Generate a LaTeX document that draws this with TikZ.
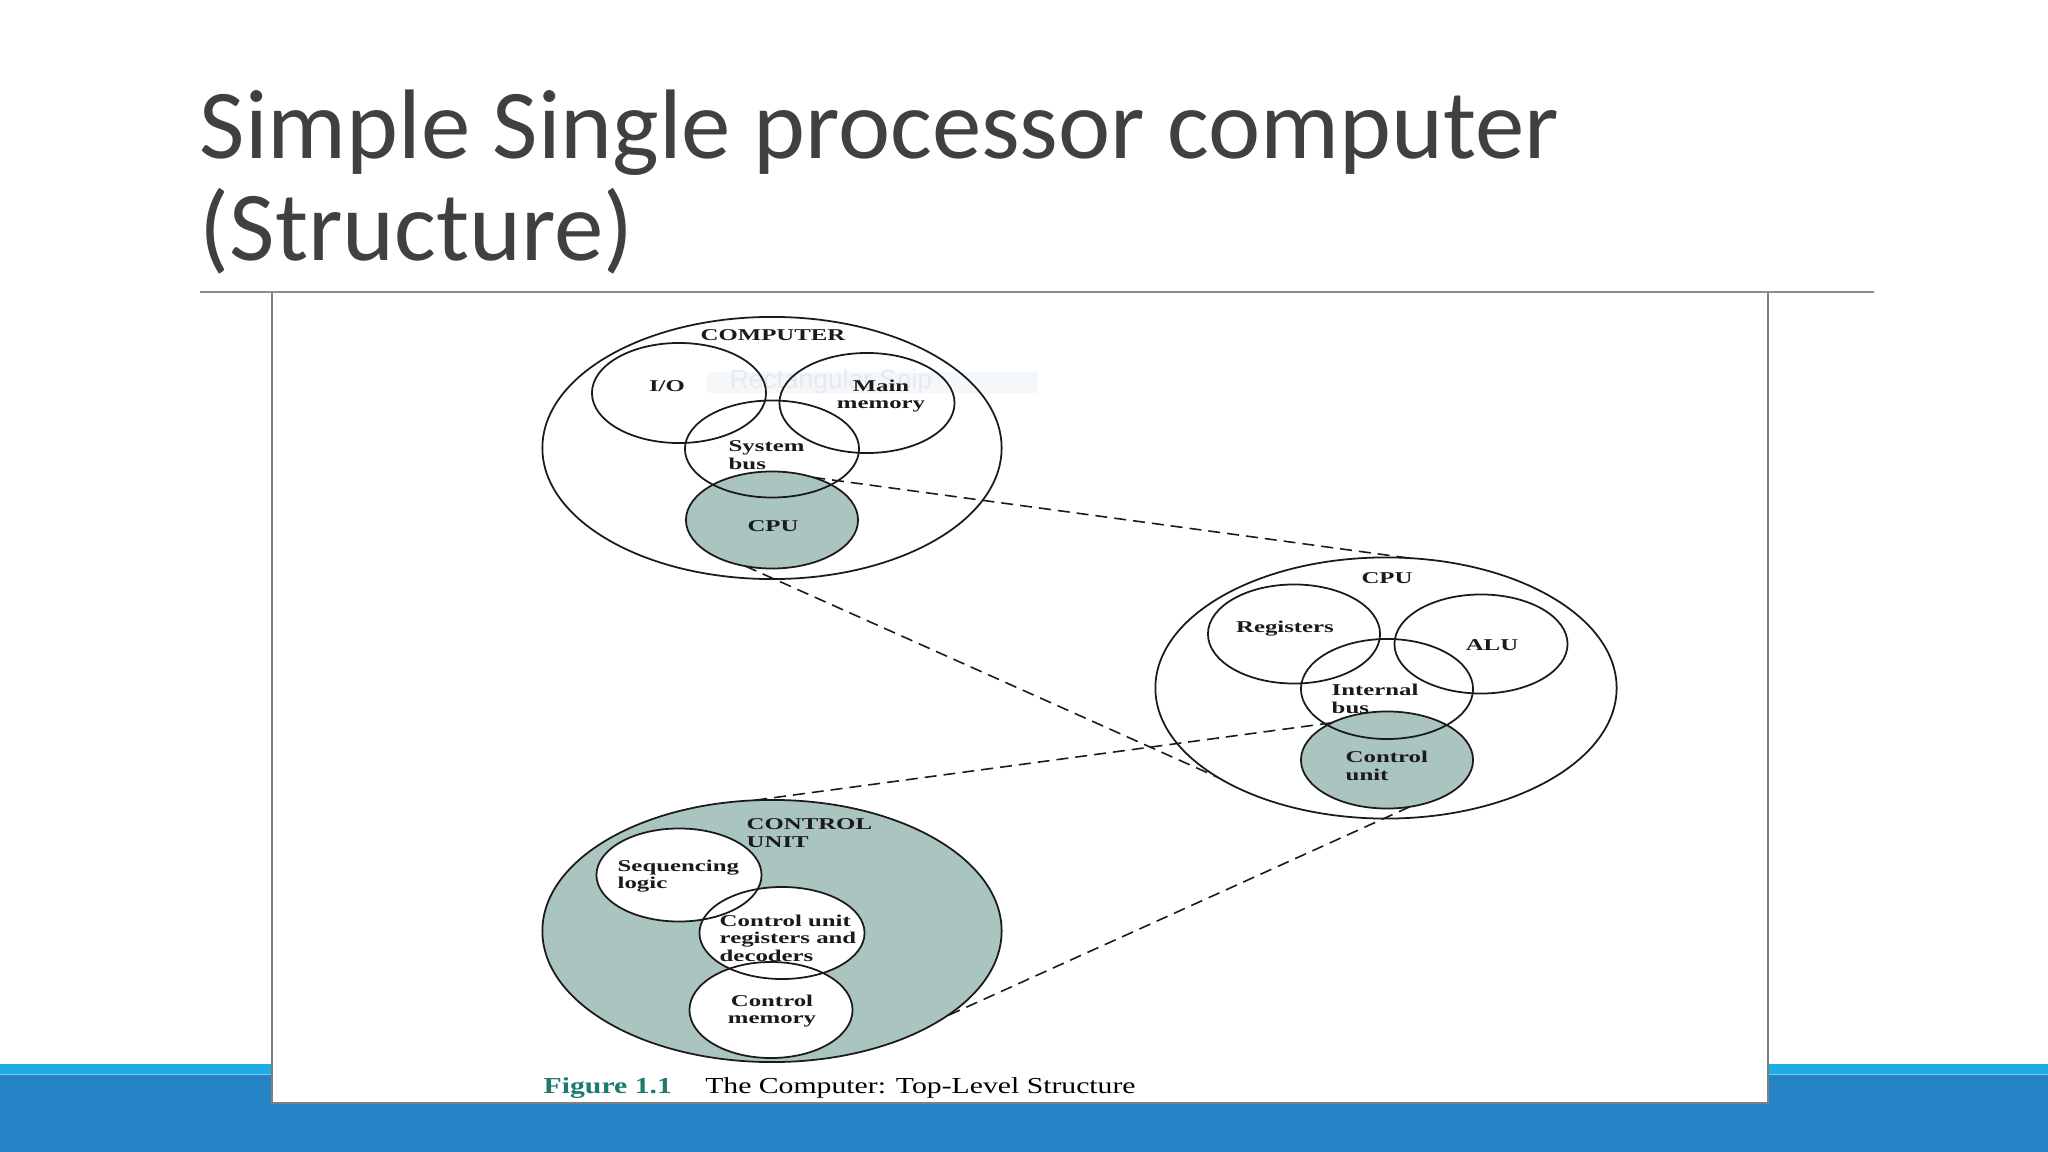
\documentclass[tikz,border=0pt]{standalone}
\usepackage{fontspec}
\usepackage{xcolor}
\usetikzlibrary{shapes.geometric,calc,backgrounds}
\setmainfont{Liberation Serif}
\newfontfamily\titlefont{Carlito}
\newfontfamily\figfont[FakeStretch=1.5]{Liberation Serif}
\newfontfamily\capfont[FakeStretch=1.3]{Liberation Serif}
\newfontfamily\snipfont{Liberation Sans}
\definecolor{ink}      {HTML}{1A1A1A}
\definecolor{titlegray}{HTML}{404040}
\definecolor{rulegray} {HTML}{8C8C8C}
\definecolor{boxgray}  {HTML}{7F7F7F}
\definecolor{cufill}   {HTML}{AAC4BF}
\definecolor{figteal}  {HTML}{1E7B6B}
\definecolor{bandlight}{HTML}{1CADE4}
\definecolor{bandline} {HTML}{7CCBEE}
\definecolor{banddark} {HTML}{2683C6}
\definecolor{snipbg}   {HTML}{F4F8FB}
\definecolor{sniptext} {HTML}{E6EAEF}
\tikzset{
  part/.style={ellipse,draw=ink,line width=0.5pt,inner sep=0pt,outer sep=0pt},
  lab/.style={font=\figfont\bfseries\fontsize{4.7}{5}\selectfont,text=ink,inner sep=0pt,align=left},
  link/.style={draw=ink,line width=0.45pt,dash pattern=on 3.4pt off 2pt}
}

\begin{document}
\begin{tikzpicture}[x=0.01cm,y=0.01cm]
        \useasboundingbox (0,0) rectangle (2048,-1152);

        % slide title
        \node[anchor=base west,inner sep=0pt,text=titlegray,font=\titlefont\fontsize{28.1}{30}\selectfont] (title) at (199,-159) {Simple Single processor computer};
        \node[anchor=base west,inner sep=0pt,text=titlegray,font=\titlefont\fontsize{28.1}{30}\selectfont] (title2) at (199,-261) {(Structure)};
        \draw[rulegray,line width=0.6pt] (200,-292) -- (1874,-292);

        % computer
        \node[part,minimum width=4.59cm,minimum height=2.62cm] (computer) at (772,-448) {};
        \node[part,minimum width=1.74cm,minimum height=1.00cm] (io) at (679,-393) {};
        \node[part,minimum width=1.75cm,minimum height=1.00cm] (mainmem) at (867,-403) {};
        \node[part,minimum width=1.72cm,minimum height=0.97cm] (cpu) at (772,-520) {};
        \node[part,minimum width=1.74cm,minimum height=0.97cm] (sysbus) at (772,-449) {};

        % cpu
        \node[part,minimum width=4.61cm,minimum height=2.61cm] (cpuouter) at (1386,-688) {};
        \node[part,minimum width=1.72cm,minimum height=0.99cm] (regs) at (1294,-634) {};
        \node[part,minimum width=1.73cm,minimum height=0.99cm] (alu) at (1481,-644) {};
        \node[part,minimum width=1.72cm,minimum height=0.97cm] (cu) at (1387,-760) {};
        \node[part,minimum width=1.72cm,minimum height=1.00cm] (intbus) at (1387,-689) {};

        % control unit
        \node[part,minimum width=4.59cm,minimum height=2.62cm] (cuouter) at (772,-931) {};
        \node[part,minimum width=1.65cm,minimum height=0.93cm] (seqlogic) at (679,-875) {};
        \node[part,minimum width=1.65cm,minimum height=0.92cm] (curegs) at (782,-933) {};
        \node[part,minimum width=1.63cm,minimum height=0.96cm] (ctrlmem) at (771,-1010) {};

        \node[lab] (computerlab) at (773,-335) {COMPUTER};
        \node[lab] (iolab) at (667,-386) {I/O};
        \node[lab,align=center] (mainmemlab) at (881,-396) {Main\\memory};
        \node[lab,anchor=west] (sysbuslab) at (728,-455) {System\\bus};
        \node[lab] (cpulab) at (773,-526) {CPU};
        \node[lab] (cpuouterlab) at (1387,-578) {CPU};
        \node[lab] (regslab) at (1285,-629) {Registers};
        \node[lab] (alulab) at (1492,-645) {ALU};
        \node[lab,anchor=west] (intbuslab) at (1331,-699) {Internal\\bus};
        \node[lab,anchor=west] (culab) at (1345,-766) {Control\\unit};
        \node[lab,anchor=west] (cuouterlab) at (746,-833) {CONTROL\\UNIT};
        \node[lab,anchor=west] (seqlogiclab) at (617,-876) {Sequencing\\logic};
        \node[lab,anchor=west] (curegslab) at (719,-938) {Control unit\\registers and\\decoders};
        \node[lab,align=center] (ctrlmemlab) at (772,-1011) {Control\\memory};

        % zoom lines
        \draw[link] (cpu.46) -- (cpuouter.80);
        \draw[link] (cpu.240) -- (cpuouter.208);
        \draw[link] (cu.146) -- (cuouter.98);
        \draw[link] (cu.296) -- (cuouter.334);

        \node[anchor=base west,inner sep=0pt,font=\capfont\fontsize{6.5}{7}\selectfont] (caption) at (543,-1093) {\textcolor{figteal}{\bfseries Figure 1.1}\hspace{9.5pt}The Computer: Top-Level Structure};

        \begin{scope}[on background layer]
          \fill[bandlight] (0,-1064) rectangle (2048,-1074);
          \fill[bandline] (0,-1074) rectangle (2048,-1075);
          \fill[banddark] (0,-1075) rectangle (2048,-1152);
          \filldraw[fill=white,draw=boxgray,line width=0.6pt] (272,-292) rectangle (1768,-1103);
          \fill[snipbg] (707,-372) rectangle (1038,-393);
          \node[text=sniptext,inner sep=0pt,font=\snipfont\fontsize{7.5}{8}\selectfont] (snip) at (831,-382) {Rectangular Snip};
          % shaded parts, outlines stay on top
          \foreach \nm/\f in {cpu/cufill,cu/cufill,cuouter/cufill,seqlogic/white,curegs/white,ctrlmem/white} {
            \fill[\f] let \p0=(\nm.center), \p1=(\nm.east), \p2=(\nm.north) in (\p0) ellipse [x radius=\x1-\x0, y radius=\y2-\y0];
          }
        \end{scope}
      \end{tikzpicture}
\end{document}
